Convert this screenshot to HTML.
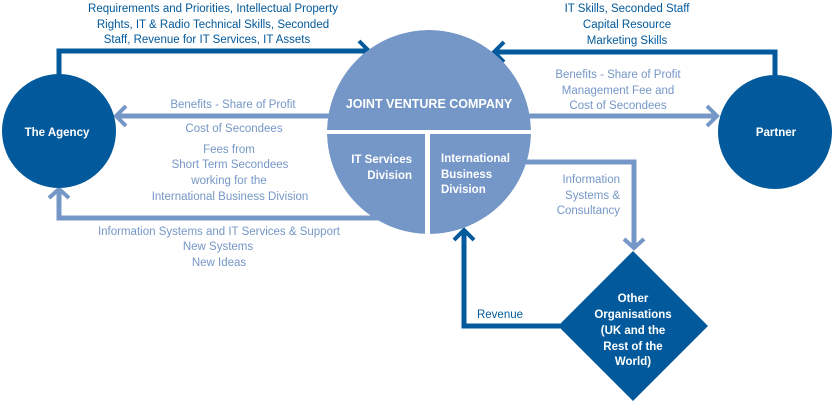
<!DOCTYPE html>
<html><head><style>
html,body{margin:0;padding:0;background:#fff;}
svg text{font-family:"Liberation Sans",sans-serif;}
</style></head><body>
<svg width="835" height="408" viewBox="0 0 835 408" xmlns="http://www.w3.org/2000/svg">
<defs>
<clipPath id="cc"><circle cx="429" cy="132" r="102"/></clipPath>
</defs>
<g fill="none" stroke-linecap="butt">
<polyline points="59,75 59,51 368,51" stroke="#02599b" stroke-width="5"/>
<polyline points="359,41 369,51 359,61" stroke="#02599b" stroke-width="4"/>
<polyline points="775,77 775,52 494,52" stroke="#02599b" stroke-width="5"/>
<polyline points="504,42 494,52 504,62" stroke="#02599b" stroke-width="4"/>
<line x1="330" y1="116" x2="117" y2="116" stroke="#7597c7" stroke-width="5"/>
<polyline points="126,106 116,116 126,126" stroke="#7597c7" stroke-width="4"/>
<line x1="528" y1="116" x2="716" y2="116" stroke="#7597c7" stroke-width="5"/>
<polyline points="707,106 717,116 707,126" stroke="#7597c7" stroke-width="4"/>
<polyline points="385,218 59,218 59,191" stroke="#7597c7" stroke-width="5"/>
<polyline points="49,198 59,189 69,198" stroke="#7597c7" stroke-width="4"/>
<polyline points="520,162 634,162 634,247" stroke="#7597c7" stroke-width="5"/>
<polyline points="624,239 634,248 644,239" stroke="#7597c7" stroke-width="4"/>
<polyline points="560,326 464,326 464,231" stroke="#02599b" stroke-width="5"/>
<polyline points="454,240 464,230 474,240" stroke="#02599b" stroke-width="4"/>
</g>
<circle cx="59" cy="131" r="57" fill="#02599b"/>
<circle cx="775" cy="132" r="57" fill="#02599b"/>
<g clip-path="url(#cc)">
<circle cx="429" cy="132" r="102" fill="#7597c7"/>
<rect x="320" y="130" width="220" height="4" fill="#fff"/>
<rect x="425" y="132" width="5" height="110" fill="#fff"/>
</g>
<polygon points="633,251 708,326 633,401 558,326" fill="#02599b"/>
<g font-size="11.5" fill="#fff" font-weight="bold" text-anchor="middle">
<text x="57" y="136">The Agency</text>
<text x="776" y="136">Partner</text>
<text x="429" y="108" font-size="12.5">JOINT VENTURE COMPANY</text>
<text x="633" y="302">Other</text>
<text x="633" y="318">Organisations</text>
<text x="633" y="334">(UK and the</text>
<text x="633" y="350">Rest of the</text>
<text x="633" y="365">World)</text>
<text x="412" y="163" text-anchor="end">IT Services</text>
<text x="412" y="179" text-anchor="end">Division</text>
<text x="441" y="162" text-anchor="start">International</text>
<text x="441" y="178" text-anchor="start">Business</text>
<text x="441" y="193" text-anchor="start">Division</text>
</g>
<g font-size="11.5" fill="#02599b" text-anchor="middle">
<text x="213" y="12">Requirements and Priorities, Intellectual Property</text>
<text x="213" y="28">Rights, IT &amp; Radio Technical Skills, Seconded</text>
<text x="207" y="43">Staff, Revenue for IT Services, IT Assets</text>
<text x="627" y="12">IT Skills, Seconded Staff</text>
<text x="627" y="28">Capital Resource</text>
<text x="627" y="44">Marketing Skills</text>
<text x="500" y="318">Revenue</text>
</g>
<g font-size="11.5" fill="#7597c7" text-anchor="middle">
<text x="233" y="108">Benefits - Share of Profit</text>
<text x="234" y="132">Cost of Secondees</text>
<text x="229" y="153">Fees from</text>
<text x="230" y="168">Short Term Secondees</text>
<text x="229" y="184">working for the</text>
<text x="230" y="200">International Business Division</text>
<text x="219" y="235">Information Systems and IT Services &amp; Support</text>
<text x="218" y="250">New Systems</text>
<text x="219" y="266">New Ideas</text>
<text x="618" y="78">Benefits - Share of Profit</text>
<text x="618" y="94">Management Fee and</text>
<text x="618" y="109">Cost of Secondees</text>
<text x="620" y="183" text-anchor="end">Information</text>
<text x="620" y="199" text-anchor="end">Systems &amp;</text>
<text x="620" y="214" text-anchor="end">Consultancy</text>
</g>
</svg>
</body></html>
